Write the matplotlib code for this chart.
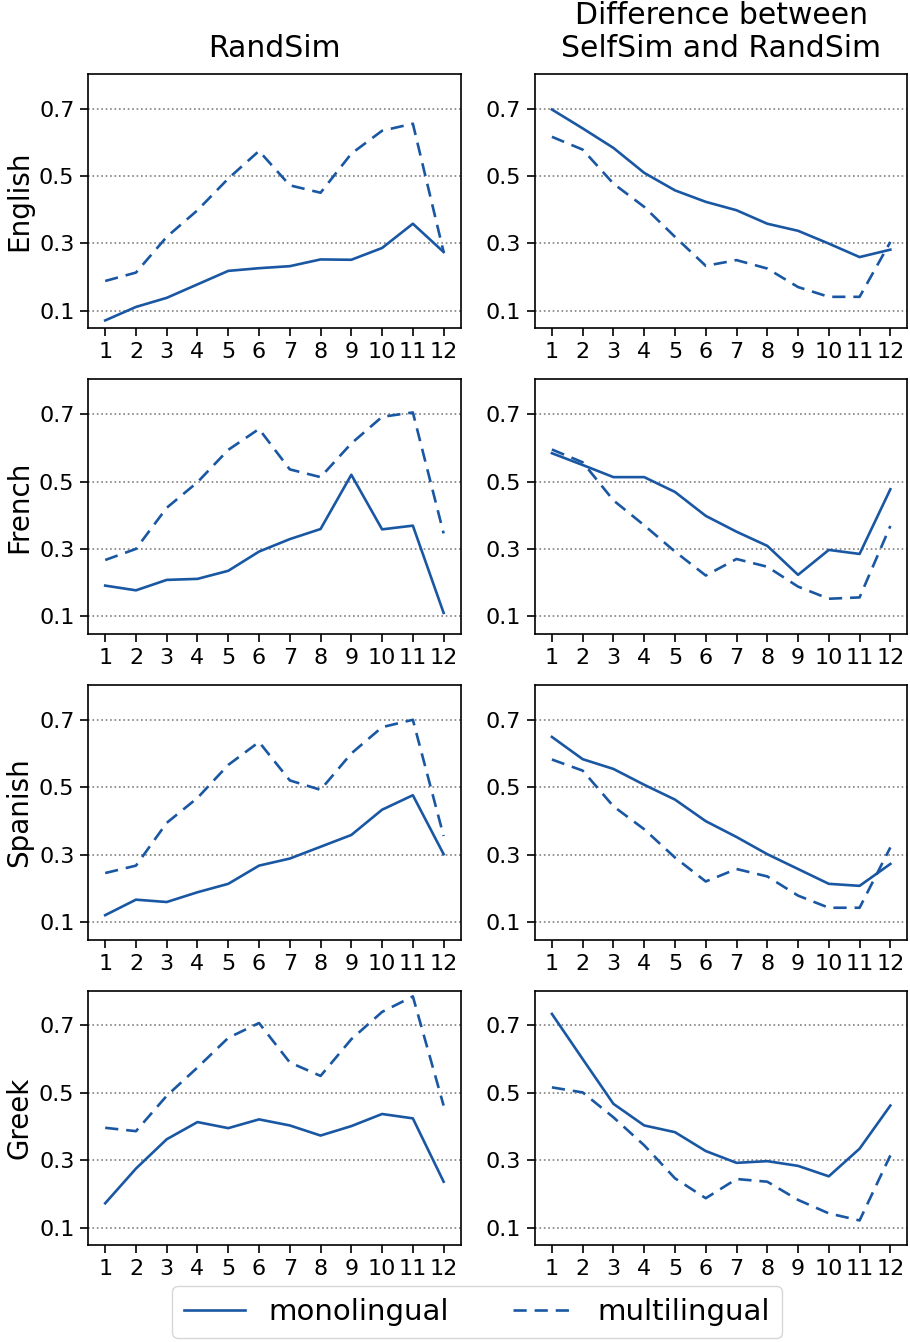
"""RandSim and SelfSim-RandSim difference per layer, four languages."""

import matplotlib

matplotlib.use("Agg")
import matplotlib.pyplot as plt

layers = list(range(1, 13))
languages = ["English", "French", "Spanish", "Greek"]
col_titles = ["RandSim", "Difference between\nSelfSim and RandSim"]

randsim_mono = {
    "English": [0.071, 0.111, 0.138, 0.178, 0.218, 0.226, 0.232, 0.252, 0.251, 0.286, 0.358, 0.274],
    "French": [0.191, 0.177, 0.208, 0.211, 0.235, 0.292, 0.329, 0.359, 0.520, 0.358, 0.369, 0.110],
    "Spanish": [0.120, 0.166, 0.159, 0.188, 0.213, 0.267, 0.288, 0.323, 0.358, 0.433, 0.476, 0.301],
    "Greek": [0.172, 0.275, 0.362, 0.413, 0.395, 0.421, 0.403, 0.373, 0.401, 0.437, 0.424, 0.236],
}
randsim_multi = {
    "English": [0.188, 0.213, 0.319, 0.398, 0.492, 0.574, 0.472, 0.450, 0.566, 0.634, 0.655, 0.274],
    "French": [0.267, 0.300, 0.422, 0.498, 0.594, 0.656, 0.536, 0.513, 0.613, 0.692, 0.705, 0.346],
    "Spanish": [0.245, 0.267, 0.394, 0.468, 0.566, 0.634, 0.520, 0.492, 0.600, 0.678, 0.700, 0.355],
    "Greek": [0.396, 0.386, 0.491, 0.575, 0.663, 0.707, 0.590, 0.550, 0.659, 0.740, 0.786, 0.462],
}
diff_mono = {
    "English": [0.697, 0.641, 0.583, 0.509, 0.457, 0.423, 0.398, 0.358, 0.337, 0.299, 0.259, 0.281],
    "French": [0.584, 0.549, 0.513, 0.513, 0.469, 0.398, 0.351, 0.309, 0.223, 0.297, 0.285, 0.477],
    "Spanish": [0.649, 0.583, 0.554, 0.507, 0.463, 0.399, 0.352, 0.301, 0.257, 0.213, 0.207, 0.272],
    "Greek": [0.734, 0.600, 0.467, 0.403, 0.383, 0.327, 0.292, 0.297, 0.283, 0.252, 0.334, 0.462],
}
diff_multi = {
    "English": [0.616, 0.578, 0.477, 0.408, 0.319, 0.233, 0.250, 0.225, 0.170, 0.141, 0.141, 0.304],
    "French": [0.595, 0.557, 0.444, 0.370, 0.292, 0.221, 0.270, 0.247, 0.188, 0.152, 0.156, 0.368],
    "Spanish": [0.582, 0.549, 0.443, 0.375, 0.291, 0.220, 0.257, 0.235, 0.178, 0.142, 0.142, 0.321],
    "Greek": [0.516, 0.501, 0.427, 0.344, 0.246, 0.187, 0.244, 0.236, 0.182, 0.142, 0.121, 0.314],
}

yticks = [0.1, 0.3, 0.5, 0.7]
colour = "#1a57a3"

fig, axes = plt.subplots(4, 2, figsize=(9.1, 13.42), dpi=100)
fig.subplots_adjust(left=0.097, right=0.997, top=0.945, bottom=0.072,
                    wspace=0.2, hspace=0.2)

for row, lang in enumerate(languages):
    for col, (mono, multi) in enumerate(
        [(randsim_mono, randsim_multi), (diff_mono, diff_multi)]
    ):
        ax = axes[row, col]
        ax.plot(layers, mono[lang], color=colour, lw=1.9, label="monolingual")
        ax.plot(layers, multi[lang], color=colour, lw=1.9, ls=(0, (5, 3)),
                label="multilingual")
        ax.set_ylim(0.047, 0.803)
        ax.set_yticks(yticks)
        ax.set_yticklabels([f"{v:.1f}" for v in yticks])
        ax.set_xticks(layers)
        ax.tick_params(labelsize=16, length=6, width=1.2, pad=4)
        ax.grid(axis="y", ls=":", color="gray", lw=1.2)
        for spine in ax.spines.values():
            spine.set_linewidth(1.2)
        if row == 0:
            ax.set_title(col_titles[col], fontsize=21.5, pad=12)
        if col == 0:
            ax.set_ylabel(lang, fontsize=20, labelpad=4)

handles, labels = axes[0, 0].get_legend_handles_labels()
fig.legend(handles, labels, loc="lower center", ncol=2, fontsize=21,
           bbox_to_anchor=(0.524, 0.0), borderaxespad=0.15,
           handlelength=2.1, columnspacing=2.2, frameon=True)

fig.savefig("out.png", dpi=100)
